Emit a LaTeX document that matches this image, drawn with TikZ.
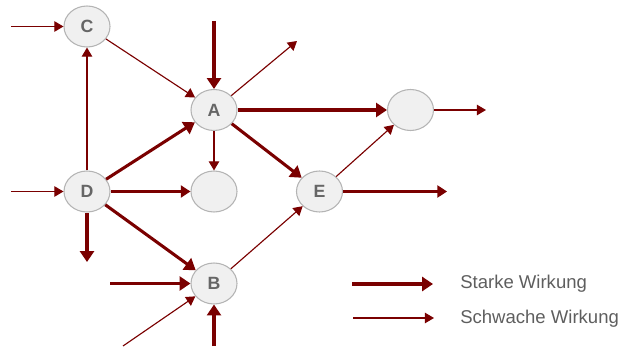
\documentclass[tikz,border=0pt]{standalone}
\usepackage{fontspec}
\setmainfont{Liberation Sans}
\usetikzlibrary{arrows.meta,shapes.geometric}
\definecolor{wred}{HTML}{7A0000}
\definecolor{nodefill}{HTML}{F0F0F0}
\definecolor{nodeline}{HTML}{B4B4B4}
\definecolor{labelgray}{HTML}{666666}
\definecolor{textgray}{HTML}{5E5E5E}
\tikzset{
  factor/.style={ellipse,draw=nodeline,line width=0.8pt,fill=nodefill,
    minimum width=34.5pt,minimum height=30.75pt,inner sep=0pt,
    font=\fontsize{13.3}{15}\selectfont\bfseries,text=labelgray},
  strong/.style={draw=wred,line width=2.3pt,
    -{Triangle[length=8.2pt,width=10.5pt]}},
  medium/.style={draw=wred,line width=1.6pt,
    -{Triangle[length=7.2pt,width=9pt]}},
  weak/.style={draw=wred,line width=0.85pt,
    -{Triangle[length=6.8pt,width=7.8pt]}},
  legendtext/.style={anchor=west,inner sep=0pt,
    font=\fontsize{13.9}{16}\selectfont,text=textgray}
}
\begin{document}
\begin{tikzpicture}[x=0.75pt,y=-0.75pt]
\useasboundingbox (0,0) rectangle (625,349);

% factors
\node[factor] (C) at (87,26.5) {C};
\node[factor] (A) at (214,110) {A};
\node[factor] (D) at (87,191.5) {D};
\node[factor] (F) at (214,191.5) {};
\node[factor] (E) at (319.5,191.5) {E};
\node[factor] (R) at (410.5,110) {};
\node[factor] (B) at (214,283.5) {B};

% free ends of the connectors
\coordinate (inC) at (11,26.5);
\coordinate (inA) at (214,21);
\coordinate (outA) at (297,41);
\coordinate (inD) at (11,191.5);
\coordinate (outD) at (87,262);
\coordinate (inBl) at (110,283.5);
\coordinate (inBd) at (123,346);
\coordinate (inBb) at (214,346);
\coordinate (outE) at (447,191.5);
\coordinate (outR) at (486,110);

% strong effects
\draw[strong] (inA) -- (A.north);
\draw[strong] (D) -- (A);
\draw[strong] (A.east) -- (R.west);
\draw[strong] (A) -- (E);
\draw[strong] (D) -- (B);
\draw[strong] (D.south) -- (outD);
\draw[strong] (inBl) -- (B.west);
\draw[strong] (inBb) -- (B.south);

% medium effects
\draw[medium] (D.east) -- (F.west);
\draw[medium] (E.east) -- (outE);

% weak effects
\draw[weak] (inC) -- (C.west);
\draw[weak] (D.north) -- (C.south);
\draw[weak] (C) -- (A);
\draw[weak] (A) -- (outA);
\draw[weak] (A.south) -- (F.north);
\draw[weak] (inD) -- (D.west);
\draw[weak] (inBd) -- (B);
\draw[weak] (B) -- (E);
\draw[weak] (E) -- (R);
\draw[weak] (R.east) -- (outR);

% legend
\coordinate (ls1) at (352,284);
\coordinate (le1) at (433,284);
\coordinate (ls2) at (353,318);
\coordinate (le2) at (434,318);
\draw[strong] (ls1) -- (le1);
\draw[weak] (ls2) -- (le2);
\node[legendtext] (lt1) at (460,284) {Starke Wirkung};
\node[legendtext] (lt2) at (460,319) {Schwache Wirkung};
\end{tikzpicture}
\end{document}
